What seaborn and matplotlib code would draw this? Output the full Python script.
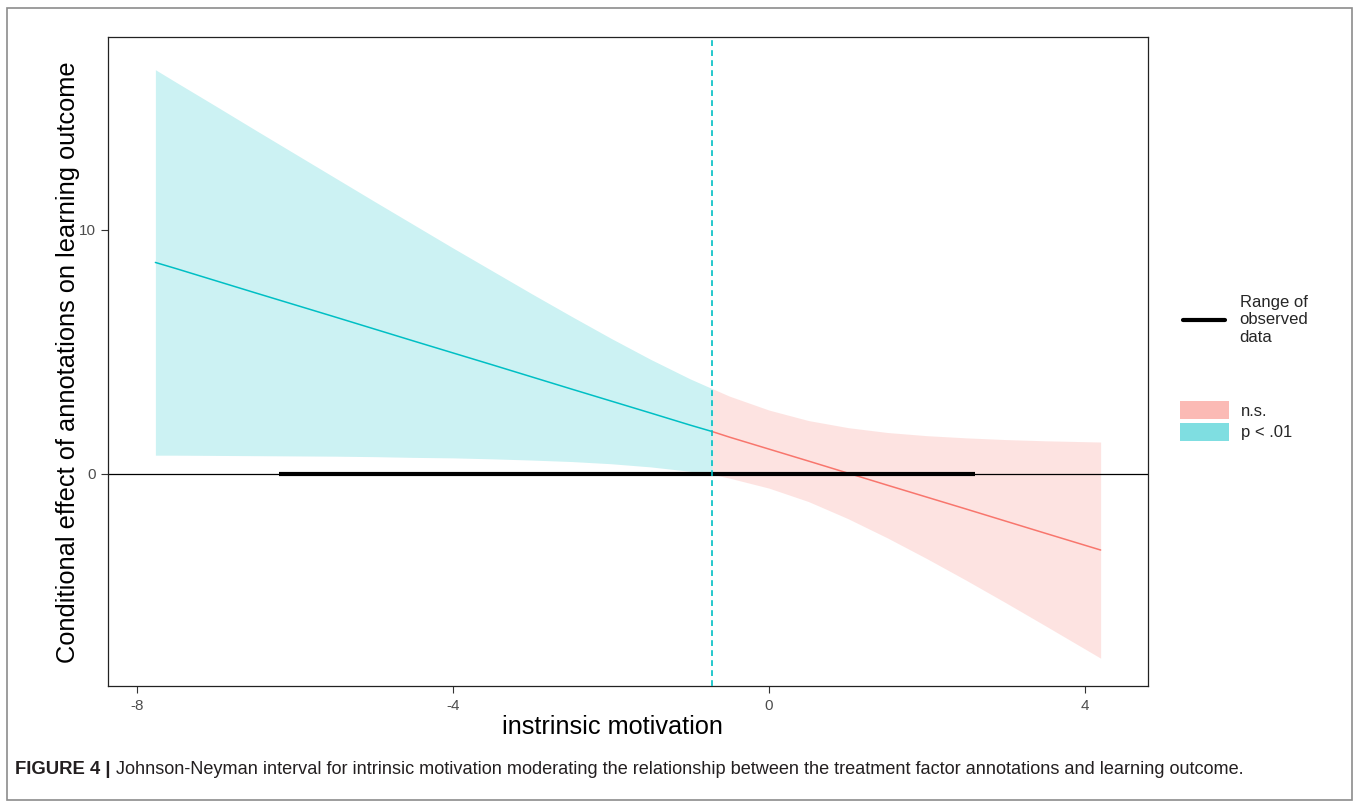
import numpy as np
import pandas as pd
import matplotlib
matplotlib.use("Agg")
import matplotlib.pyplot as plt
import seaborn as sns
from matplotlib.lines import Line2D
from matplotlib.patches import Patch, Rectangle

# ---- data ----
moderator = [-7.77, -7.5, -7, -6.5, -6, -5.5, -5, -4.5, -4, -3.5, -3, -2.5, -2, -1.5,
             -1, -0.72, -0.5, 0, 0.5, 1, 1.5, 2, 2.5, 3, 3.5, 4.2]
estimate = [8.66, 8.40, 7.905, 7.41, 6.92, 6.43, 5.935, 5.44, 4.95, 4.46, 3.965, 3.47,
            2.98, 2.49, 1.995, 1.73, 1.50, 1.01, 0.52, 0.025, -0.47, -0.96, -1.45,
            -1.945, -2.44, -3.127]
ci_upper = [16.56, 16.03, 15.06, 14.08, 13.11, 12.14, 11.17, 10.21, 9.25, 8.31, 7.37,
            6.45, 5.55, 4.69, 3.89, 3.49, 3.18, 2.61, 2.18, 1.89, 1.69, 1.56, 1.47,
            1.40, 1.35, 1.30]
ci_lower = [0.76, 0.76, 0.75, 0.74, 0.73, 0.72, 0.70, 0.67, 0.65, 0.61, 0.56, 0.50,
            0.41, 0.28, 0.10, -0.02, -0.18, -0.59, -1.14, -1.84, -2.63, -3.48, -4.37,
            -5.29, -6.23, -7.56]
jn_point = -0.72
observed_range = [-6.21, 2.61]
x_ticks = [-8, -4, 0, 4]
y_ticks = [0, 10]
sig_labels = ["n.s.", "p < .01"]
sig_colors = ["#F8766D", "#00BFC4"]
colors = dict(zip(sig_labels, sig_colors))

sns.set_theme(style="white")
plt.rcParams["font.family"] = ["Liberation Sans", "DejaVu Sans"]

df = pd.DataFrame(dict(x=moderator, est=estimate, lo=ci_lower, hi=ci_upper))
sig_part = df[df.x <= jn_point].assign(group="p < .01")
ns_part = df[df.x >= jn_point].assign(group="n.s.")
plot_df = pd.concat([sig_part, ns_part], ignore_index=True)

W, H = 1358, 808
fig = plt.figure(figsize=(W / 100, H / 100), dpi=100)
fig.patch.set_facecolor("white")
ax = fig.add_axes([108 / W, 1 - 686 / H, 1040 / W, 649 / H])
ax.set_facecolor("white")

for g, sub in plot_df.groupby("group"):
    ax.fill_between(sub.x, sub.lo, sub.hi, color=colors[g], alpha=0.2, lw=0, zorder=1)

sns.lineplot(data=plot_df, x="x", y="est", hue="group", palette=colors,
             legend=False, lw=1.1, ax=ax, zorder=3, estimator=None, sort=True)

ax.axhline(0, color="black", lw=0.9, zorder=2)
ax.plot(observed_range, [0, 0], color="black", lw=3, solid_capstyle="butt", zorder=4)
ax.axvline(jn_point, color=colors["p < .01"], ls=(0, (3.5, 2.5)), lw=1.2, zorder=5)

ax.set_xlim(-8.37, 4.8)
ax.set_ylim(-8.7, 17.9)
ax.set_xticks(x_ticks)
ax.set_xticklabels([str(v) for v in x_ticks])
ax.set_yticks(y_ticks)
ax.set_yticklabels([str(v) for v in y_ticks])
ax.tick_params(axis="both", bottom=True, left=True, length=5, width=0.8,
               color="#333333", labelsize=11, labelcolor="#4D4D4D", pad=4,
               direction="out")
for s in ax.spines.values():
    s.set_visible(True)
    s.set_color("#222222")
    s.set_linewidth(0.9)

ax.set_xlabel("instrinsic motivation", fontsize=18.2, color="black")
ax.xaxis.set_label_coords((612 - 108) / 1040, (686 - 727) / 649)
ax.xaxis.label.set_va("center")
ax.set_ylabel("Conditional effect of annotations on learning outcome", fontsize=18.3, color="black")
ax.yaxis.set_label_coords((68 - 108) / 1040, (686 - 362) / 649)
ax.yaxis.label.set_va("center")
ax.yaxis.label.set_ha("center")

# legends
leg1 = fig.legend(handles=[Line2D([], [], color="black", lw=3)],
                  labels=["Range of\nobserved\ndata"],
                  loc="center left", bbox_to_anchor=(1183 / W, 1 - 320 / H),
                  frameon=False, fontsize=12, handlelength=2.5, handletextpad=0.9,
                  borderaxespad=0, borderpad=0)
for t in leg1.get_texts():
    t.set_linespacing(1.25)
handles2 = [Patch(facecolor=colors[l], alpha=0.5, lw=0) for l in sig_labels]
leg2 = fig.legend(handles=handles2, labels=sig_labels,
                  loc="center left", bbox_to_anchor=(1180 / W, 1 - 421 / H),
                  frameon=False, fontsize=12, handlelength=2.93, handleheight=1.32,
                  labelspacing=0.2, handletextpad=0.75, borderaxespad=0, borderpad=0)

# caption
cap_y = 1 - 770 / H
cap_size = 13.3
t1 = fig.text(15 / W, cap_y, "FIGURE 4 |", fontsize=cap_size, weight="bold",
              va="center", ha="left", color="#231F20")
r = fig.canvas.get_renderer()
w1 = t1.get_window_extent(r).width
start = 15 + w1 + 5
t2 = fig.text(start / W, cap_y,
              "Johnson-Neyman interval for intrinsic motivation moderating the relationship "
              "between the treatment factor annotations and learning outcome.",
              fontsize=cap_size, va="center", ha="left", color="#231F20")
w2 = t2.get_window_extent(r).width
t2.set_fontsize(cap_size * (1247 - start) / w2)

fig.patches.append(Rectangle((7 / W, 8 / H), 1345 / W, 792 / H, transform=fig.transFigure,
                             fill=False, edgecolor="#8C8C8C", lw=1.2))

fig.savefig("out.png", dpi=100)
